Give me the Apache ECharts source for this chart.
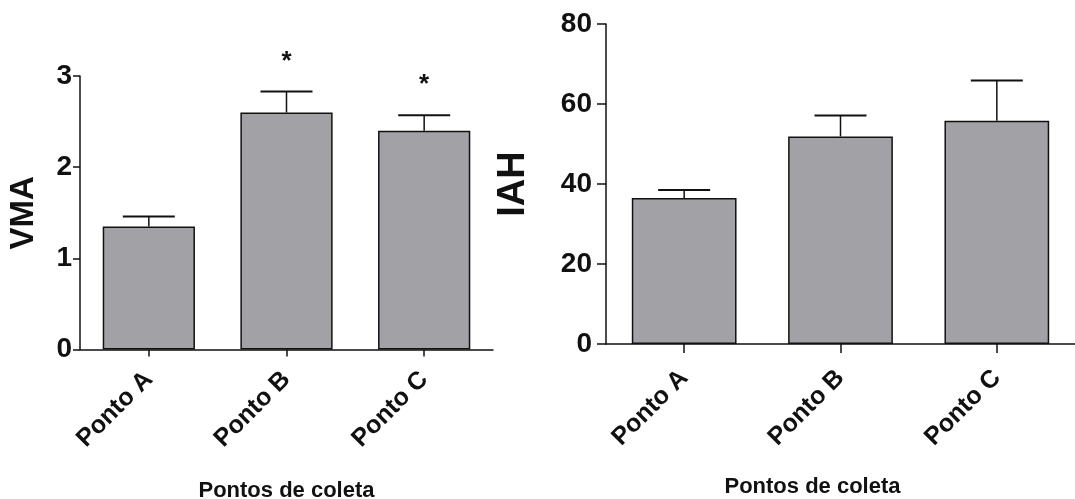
<!DOCTYPE html>
<html>
<head>
<meta charset="utf-8">
<script src="https://cdn.jsdelivr.net/npm/echarts@6/dist/echarts.min.js"></script>
<style>
  html, body { margin: 0; padding: 0; background: #fff; }
  #chart { width: 1075px; height: 499px; }
</style>
</head>
<body>
<div id="chart"></div>
<script>
// dados
var categories = ['Ponto A', 'Ponto B', 'Ponto C'];
var vmaMean = [1.35, 2.6, 2.4];
var vmaErr = [0.11, 0.23, 0.17];
var vmaSig = ['', '*', '*'];
var iahMean = [36.5, 51.9, 55.8];
var iahErr = [2.0, 5.2, 10.1];
var iahSig = ['', '', ''];
var vmaTicks = { min: 0, max: 3, interval: 1 };
var iahTicks = { min: 0, max: 80, interval: 20 };

var font = "'Liberation Sans', Arial, sans-serif";
var barColor = '#a2a1a6';
var ink = '#111';

function errRows(mean, err, sig) {
  return mean.map(function (m, i) { return [i, m, err[i], sig[i]]; });
}

function sigOf(seriesIndex, idx) {
  return seriesIndex === 1 ? vmaSig[idx] : iahSig[idx];
}

function renderErr(params, api) {
  var i = api.value(0);
  var m = api.value(1);
  var top = m + api.value(2);
  var p0 = api.coord([i, m]);
  var p1 = api.coord([i, top]);
  var half = 26;
  var sig = sigOf(params.seriesIndex, params.dataIndex);
  var kids = [
    { type: 'line', shape: { x1: p0[0], y1: p0[1], x2: p1[0], y2: p1[1] }, style: { stroke: ink, lineWidth: 1.5 } },
    { type: 'line', shape: { x1: p1[0] - half, y1: p1[1], x2: p1[0] + half, y2: p1[1] }, style: { stroke: ink, lineWidth: 2 } }
  ];
  if (sig) {
    kids.push({
      type: 'text',
      style: { text: sig, x: p1[0], y: p1[1] - 30, align: 'center', verticalAlign: 'middle',
               font: 'bold 26px ' + font, fill: ink }
    });
  }
  return { type: 'group', children: kids };
}

function xAxisOf(gridIndex, gap, nameShift, labelMargin, tickLen) {
  return {
    type: 'category', gridIndex: gridIndex, data: categories,
    boundaryGap: true,
    name: 'Pontos de coleta', nameLocation: 'middle', nameGap: gap,
    nameTextStyle: { fontFamily: font, fontWeight: 'bold', fontSize: 22, color: ink, padding: [0, nameShift, 0, 0] },
    axisLine: { show: true, lineStyle: { color: ink, width: 1.5 } },
    axisTick: { show: true, alignWithLabel: true, length: tickLen, lineStyle: { color: ink, width: 1.5 } },
    axisLabel: { rotate: 45, margin: labelMargin, fontFamily: font, fontWeight: 'bold', fontSize: 25, color: ink, interval: 0 },
    splitLine: { show: false }
  };
}

function yAxisOf(gridIndex, ticks, name, nameSize, nameGap, labelMargin, tickLen) {
  return {
    type: 'value', gridIndex: gridIndex,
    min: ticks.min, max: ticks.max, interval: ticks.interval,
    name: name, nameLocation: 'middle', nameGap: nameGap, nameRotate: 90,
    nameTextStyle: { fontFamily: font, fontWeight: 'bold', fontSize: nameSize, color: ink },
    axisLine: { show: true, lineStyle: { color: ink, width: 1.5 } },
    axisTick: { show: true, length: tickLen, lineStyle: { color: ink, width: 1.5 } },
    axisLabel: { margin: labelMargin, fontFamily: font, fontWeight: 'bold', fontSize: 28, color: ink },
    splitLine: { show: false }
  };
}

var myChart = echarts.init(document.getElementById('chart'));
var option = {
  animation: false,
  backgroundColor: '#fff',
  grid: [
    { left: 80, top: 76, width: 413, height: 273.5, outerBoundsMode: 'none' },
    { left: 606, top: 24, width: 469, height: 320, outerBoundsMode: 'none' }
  ],
  xAxis: [
    xAxisOf(0, 130, 0, 26, 7),
    xAxisOf(1, 132, 56, 30, 9)
  ],
  yAxis: [
    yAxisOf(0, vmaTicks, 'VMA', 33, 40, 8, 7),
    yAxisOf(1, iahTicks, 'IAH', 38, 73, 14, 9)
  ],
  series: [
    {
      type: 'bar', xAxisIndex: 0, yAxisIndex: 0, data: vmaMean, barWidth: '67%',
      itemStyle: { color: barColor, borderColor: ink, borderWidth: 1.5 }, z: 2
    },
    {
      type: 'custom', xAxisIndex: 0, yAxisIndex: 0, data: errRows(vmaMean, vmaErr, vmaSig),
      renderItem: renderErr, z: 3
    },
    {
      type: 'bar', xAxisIndex: 1, yAxisIndex: 1, data: iahMean, barWidth: '67%',
      itemStyle: { color: barColor, borderColor: ink, borderWidth: 1.5 }, z: 2
    },
    {
      type: 'custom', xAxisIndex: 1, yAxisIndex: 1, data: errRows(iahMean, iahErr, iahSig),
      renderItem: renderErr, z: 3
    }
  ]
};
myChart.setOption(option);
</script>
</body>
</html>
